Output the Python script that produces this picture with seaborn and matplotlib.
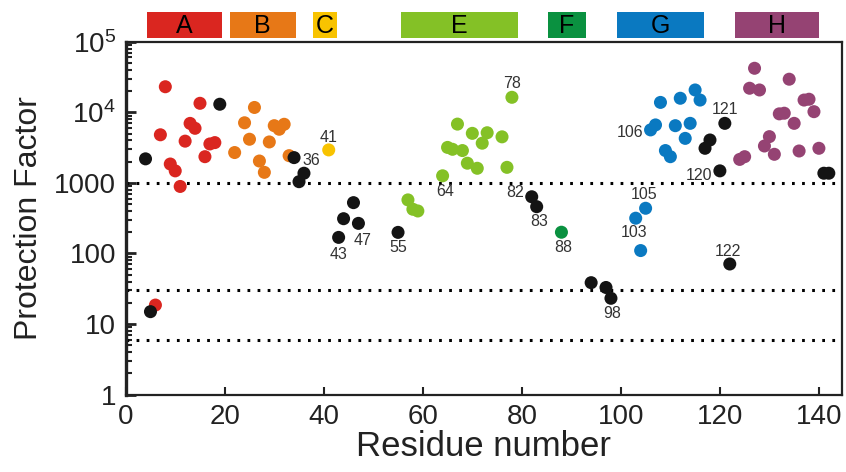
import matplotlib
matplotlib.use("Agg")
import matplotlib.pyplot as plt
import matplotlib.ticker as mticker
import matplotlib.transforms as mtransforms
from matplotlib.patches import Rectangle
import numpy as np
import pandas as pd
import seaborn as sns

# ---------------- data ----------------
res_A = [7, 8, 9, 10, 11, 12, 13, 14, 15, 16, 17, 18, 6]
pf_A = [4800, 23000, 1850, 1480, 890, 3900, 6960, 5930, 13400, 2350, 3560, 3720, 18.6]

res_B = [22, 24, 25, 26, 27, 28, 29, 30, 31, 32, 33]
pf_B = [2690, 7100, 4150, 11700, 2040, 1410, 3800, 6460, 5750, 6760, 2430]

res_C = [41]
pf_C = [2930]

res_E = [57, 58, 59, 64, 65, 66, 67, 68, 69, 70, 71, 72, 73, 76, 77, 78]
pf_E = [574, 423, 400, 1260, 3180, 2990, 6800, 2870, 1900, 5030, 1610, 3650, 5130, 4490, 1660, 16300]

res_F = [88]
pf_F = [200]

res_G = [103, 104, 105, 106, 107, 108, 109, 110, 111, 112, 113, 114, 115, 116]
pf_G = [316, 110, 437, 5630, 6620, 13800, 2870, 2350, 6460, 15800, 4270, 6970, 20700, 14900]

res_H = [124, 125, 126, 127, 128, 129, 130, 131, 132, 133, 134, 135, 136, 137, 138, 139, 140]
pf_H = [2150, 2350, 21900, 42000, 20700, 3330, 4520, 2540, 9500, 9700, 29400, 6970, 2830, 14900, 15300, 10200, 3090]

res_other = [4, 5, 19, 34, 35, 36, 43, 44, 46, 47, 55, 82, 83, 94, 97, 98, 117, 118, 120, 121, 122, 141, 142]
pf_other = [2190, 15.0, 13000, 2280, 1040, 1370, 169, 311, 525, 267, 199, 636, 460, 38.6, 33, 23.2, 3090, 4050, 1480, 6970, 71, 1370, 1370]

region_names = ["A", "B", "C", "E", "F", "G", "H"]
region_start = [4.3, 21.0, 37.9, 55.6, 85.3, 99.2, 123.0]
region_end = [19.4, 34.3, 42.6, 79.3, 92.9, 116.8, 140.0]
region_colors = ["#DA2620", "#E77817", "#F8C300", "#84C126", "#0A9140", "#0A79C1", "#954373"]

threshold_levels = [1000, 30, 6]

labeled_residues = [36, 41, 43, 47, 55, 64, 78, 82, 83, 88, 98, 103, 105, 106, 120, 121, 122]
label_offsets = {36: (5, 9), 41: (0, 9), 43: (0, -12), 47: (3, -12), 55: (0, -11),
                 64: (2, -11), 78: (0, 10), 82: (-12, 3), 83: (2, -11), 88: (1, -11),
                 98: (1, -11), 103: (-1, -10), 105: (-1, 10), 106: (-15, -2),
                 120: (-15, -3), 121: (0, 10), 122: (-1, 9)}

x_ticks = [0, 20, 40, 60, 80, 100, 120, 140]
y_ticks = [1, 10, 100, 1000, 1e4, 1e5]
y_ticklabels = ["1", "10", "100", "1000", r"$\mathregular{10^4}$", r"$\mathregular{10^5}$"]

# ---------------- build table ----------------
groups = [("A", res_A, pf_A), ("B", res_B, pf_B), ("C", res_C, pf_C), ("E", res_E, pf_E),
          ("F", res_F, pf_F), ("G", res_G, pf_G), ("H", res_H, pf_H), ("other", res_other, pf_other)]
rows = []
for name, rr, pp in groups:
    for r, p in zip(rr, pp):
        rows.append({"residue": r, "pf": p, "region": name})
df = pd.DataFrame(rows)
palette = dict(zip(region_names, region_colors))
palette["other"] = "#141414"

sns.set_theme(style="white")
plt.rcParams["font.family"] = ["Liberation Sans", "DejaVu Sans"]
plt.rcParams["mathtext.fontset"] = "custom"
plt.rcParams["mathtext.rm"] = "Liberation Sans"

fig = plt.figure(figsize=(8.46, 4.72), dpi=100)
ax = fig.add_axes([0.1486, 0.1638, 0.9949 - 0.1486, 0.9117 - 0.1638])

for lvl in threshold_levels:
    ax.axhline(lvl, color="black", lw=2.2, linestyle=(0, (0.9, 2.4)), zorder=1)

colored = df[df.region != "other"]
black = df[df.region == "other"]
sns.scatterplot(data=colored, x="residue", y="pf", hue="region", palette=palette,
                s=88, edgecolor="none", legend=False, ax=ax, zorder=3)
sns.scatterplot(data=black, x="residue", y="pf", color=palette["other"],
                s=88, edgecolor="none", legend=False, ax=ax, zorder=4)

ax.set_yscale("log")
ax.set_xlim(0, 144.6)
ax.set_ylim(1, 1e5)

lookup = {r: p for r, p in zip(df.residue, df.pf)}
for r in labeled_residues:
    dx, dy = label_offsets[r]
    ax.annotate(str(r), (r, lookup[r]), xytext=(dx, dy), textcoords="offset points",
                ha="center", va="center", fontsize=11.5, color="#333333", zorder=5)

# region bars above plot
trans = mtransforms.blended_transform_factory(ax.transData, ax.transAxes)
for name, s0, s1, c in zip(region_names, region_start, region_end, region_colors):
    ax.add_patch(Rectangle((s0, 1.0096), s1 - s0, 0.0735, transform=trans,
                           facecolor=c, edgecolor="none", clip_on=False))
    ax.text((s0 + s1) / 2, 1.045, name, transform=trans, ha="center", va="center",
            fontsize=18, color="black")

ax.set_xticks(x_ticks)
ax.set_xticklabels([str(t) for t in x_ticks])
ax.yaxis.set_major_locator(mticker.FixedLocator(y_ticks))
ax.yaxis.set_major_formatter(mticker.FixedFormatter(y_ticklabels))
ax.yaxis.set_minor_locator(mticker.LogLocator(base=10, subs=np.arange(2, 10)))
ax.yaxis.set_minor_formatter(mticker.NullFormatter())

ax.tick_params(axis="both", which="both", left=True, bottom=True, top=False, right=False)
ax.tick_params(axis="both", which="major", direction="in", length=7, width=2,
               labelsize=20, colors="#222222")
ax.tick_params(axis="y", which="major", pad=7)
ax.tick_params(axis="y", which="minor", direction="in", length=4.5, width=1.5,
               colors="#222222")
ax.tick_params(axis="x", which="major", length=6, width=1.5, pad=7)
ax.tick_params(axis="x", which="minor", bottom=False)

for side, sp in ax.spines.items():
    sp.set_color("#222222")
    sp.set_linewidth(1.6)
ax.spines["left"].set_linewidth(2.4)

ax.set_xlabel("Residue number", fontsize=25, color="#222222", labelpad=0)
ax.set_ylabel("Protection Factor", fontsize=23, color="#222222", labelpad=7)

fig.savefig("out.png", dpi=100)
